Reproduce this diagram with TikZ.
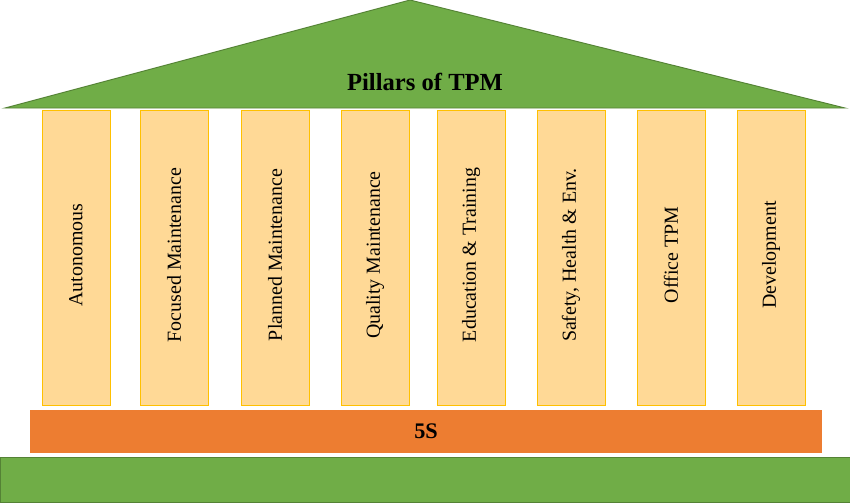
\documentclass[tikz,border=0pt]{standalone}
\usepackage{fontspec}
\setmainfont{Liberation Serif}
\usetikzlibrary{positioning}
\definecolor{roofgreen}{RGB}{112,173,71}
\definecolor{roofedge}{RGB}{84,130,53}
\definecolor{pillarfill}{RGB}{255,217,150}
\definecolor{pillaredge}{RGB}{255,192,0}
\definecolor{barorange}{RGB}{237,125,49}

\begin{document}
\begin{tikzpicture}[
    x=0.03cm, y=-0.03cm,
    pillar/.style={draw=pillaredge, fill=pillarfill, line width=0.6pt, minimum width=2.04cm, minimum height=8.85cm, inner sep=0pt},
    label/.style={rotate=90, font=\fontsize{17}{20}\selectfont},
    slab/.style={draw=none, inner sep=0pt}
]
\useasboundingbox (0,0) rectangle (850,502);

% Roof
\draw[fill=roofgreen, draw=roofedge, line width=0.8pt] (5,108) -- (410,0) -- (845,108) -- cycle;
\node[font=\fontsize{21}{24}\selectfont\bfseries] (title) at (425,82) {Pillars of TPM};

% Pillars
\foreach \x/\txt [count=\i] in {76/Autonomous, 174/Focused Maintenance, 275/Planned Maintenance, 375/Quality Maintenance, 471/Education \& Training, 571/{Safety, Health \& Env.}, 671/Office TPM, 771/Development}{
  \node[pillar] (p\i) at (\x,257.5) {};
  \node[label] (t\i) at (\x,255) {\txt};
}

% 5S bar and base
\node[slab, fill=barorange, minimum width=23.76cm, minimum height=1.29cm, font=\fontsize{19}{22}\selectfont\bfseries] (fives) at (426,431.5) {5S};
\node[slab, fill=roofgreen, draw=roofedge, line width=0.6pt, minimum width=25.5cm, minimum height=1.35cm] (base) at (425,479.5) {};

\end{tikzpicture}
\end{document}
